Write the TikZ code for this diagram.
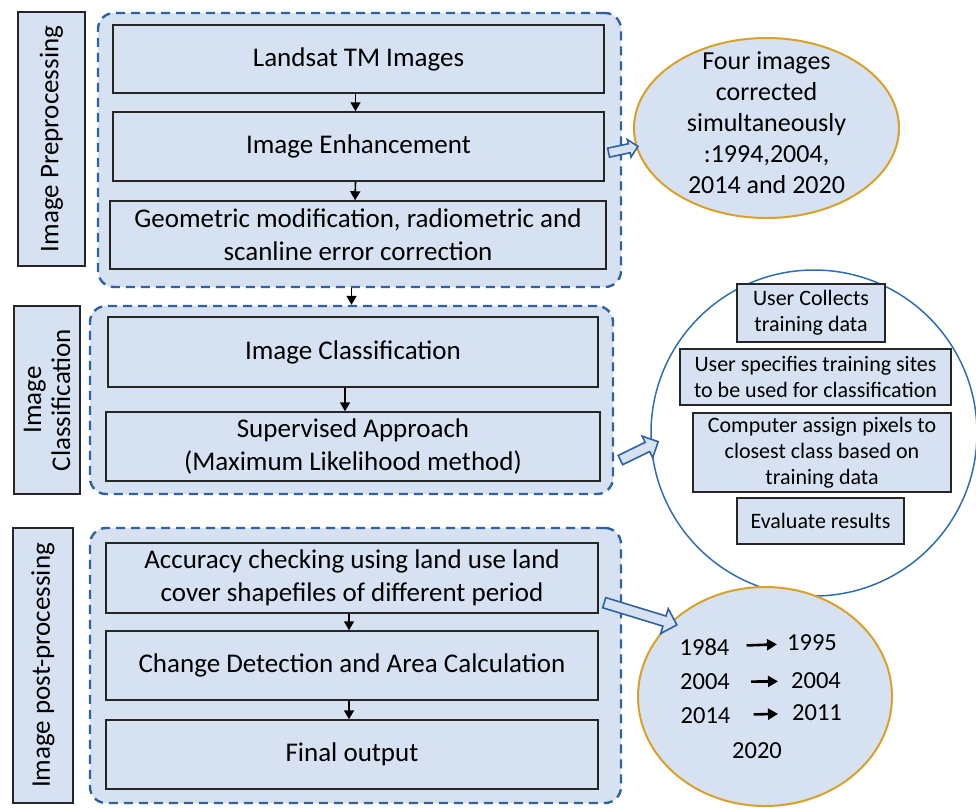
\documentclass[tikz,border=0pt]{standalone}
\usepackage{fontspec}
\setmainfont{Carlito}
\usetikzlibrary{shapes.geometric,shapes.arrows,arrows.meta}

\definecolor{boxfill}{RGB}{214,226,242}
\definecolor{dashblue}{RGB}{46,98,165}
\definecolor{ringblue}{RGB}{46,110,180}
\definecolor{ringgold}{RGB}{218,160,40}
\definecolor{edgegray}{RGB}{38,38,38}

\tikzset{
  stepbox/.style={draw=edgegray, line width=1.5pt, fill=boxfill, align=center,
    inner sep=0pt, font=\fontsize{27}{33}\selectfont},
  sidebox/.style={stepbox, rotate=90},
  tinybox/.style={stepbox, font=\fontsize{22}{26}\selectfont},
  group/.style={draw=dashblue, line width=2.4pt, dash pattern=on 9pt off 6pt,
    fill=boxfill, rounded corners=16pt},
  bigarrow/.style={single arrow, draw=dashblue, line width=1.6pt, fill=boxfill,
    single arrow head indent=0pt},
  yr/.style={font=\fontsize{24.5}{28}\selectfont, inner sep=1pt},
  yrarrow/.style={line width=2.6pt, -{Triangle[length=10pt,width=11pt]}},
}

\begin{document}
\begin{tikzpicture}[x=1pt, y=-1pt, >={Triangle[length=9pt,width=10pt]}]
  \useasboundingbox (0,0) rectangle (976,807);

  % dashed groups
  \node (grpA) [group, minimum width=523pt, minimum height=274pt] at (359.5,150) {};
  \node (grpB) [group, minimum width=523pt, minimum height=188pt] at (351.5,400) {};
  \node (grpC) [group, minimum width=531pt, minimum height=275pt] at (355.5,665.5) {};

  % side labels
  \node (labA) [sidebox, minimum width=254pt, minimum height=67pt] at (51.5,139) {Image Preprocessing};
  \node (labB) [sidebox, minimum width=188pt, minimum height=66pt, font=\fontsize{27}{29}\selectfont] at (47,400) {Image\\Classification};
  \node (labC) [sidebox, minimum width=275pt, minimum height=60pt] at (43,665.5) {Image post-processing};

  % preprocessing
  \node (land) [stepbox, minimum width=491pt, minimum height=68pt] at (358.5,59) {Landsat TM Images};
  \node (enh) [stepbox, minimum width=491pt, minimum height=69pt] at (358.5,146.5) {Image Enhancement};
  \node (geo) [stepbox, minimum width=496pt, minimum height=68pt] at (358,235) {Geometric modification, radiometric and\\scanline error correction};
  \draw [->, line width=1.6pt] ([xshift=-3pt]land.south) -- ([xshift=-3pt]enh.north);
  \draw [->, line width=1.6pt] ([xshift=-3pt]enh.south) -- ([xshift=-3pt]geo.north);

  % classification
  \node (cls) [stepbox, minimum width=490pt, minimum height=70pt] at (353,352) {Image Classification};
  \node (sup) [stepbox, minimum width=494pt, minimum height=69pt] at (353,446.5) {Supervised Approach\\(Maximum Likelihood method)};
  \draw [->, line width=1.6pt] ([xshift=-8pt]cls.south) -- ([xshift=-8pt]sup.north);
  \draw [->, line width=1.6pt] (grpA.south -| grpB.north) -- (grpB.north);

  % post-processing
  \node (acc) [stepbox, minimum width=492pt, minimum height=70pt] at (352,578) {Accuracy checking using land use land\\cover shapefiles of different period};
  \node (chg) [stepbox, minimum width=492pt, minimum height=69pt] at (352,665.5) {Change Detection and Area Calculation};
  \node (fin) [stepbox, minimum width=492pt, minimum height=69pt] at (352,754.5) {Final output};
  \draw [->, line width=1.6pt] ([xshift=-3pt]acc.south) -- ([xshift=-3pt]chg.north);
  \draw [->, line width=1.6pt] ([xshift=-3pt]chg.south) -- ([xshift=-3pt]fin.north);

  % four images
  \node (four) [ellipse, draw=ringgold, line width=2pt, fill=boxfill, minimum width=265pt, minimum height=180pt] at (766.5,128) {};
  \node (fourtxt) [align=center, font=\fontsize{26}{31}\selectfont, inner sep=0pt] at (766.5,123) {Four images\\corrected\\simultaneously\\:1994,2004,\\2014 and 2020};

  % training steps
  \node (ring) [circle, draw=ringblue, line width=1.5pt, minimum size=326pt] at (814,433) {};
  \node (uc) [tinybox, minimum width=148pt, minimum height=58pt] at (811,313) {User Collects\\training data};
  \node (us) [tinybox, minimum width=271pt, minimum height=56pt] at (815.5,377) {User specifies training sites\\to be used for classification};
  \node (ca) [tinybox, minimum width=258pt, minimum height=79pt] at (822,452.5) {Computer assign pixels to\\closest class based on\\training data};
  \node (ev) [tinybox, minimum width=167pt, minimum height=46pt] at (820.5,521) {Evaluate results};

  % years
  \node (yrs) [ellipse, draw=ringgold, line width=2pt, fill=boxfill, minimum width=254pt, minimum height=219pt] at (765,696.5) {};
  \node (ya) [yr] at (704.5,647) {1984};
  \node (yb) [yr] at (812,643) {1995};
  \node (yc) [yr] at (705,682) {2004};
  \node (yd) [yr] at (816,681) {2004};
  \node (ye) [yr] at (705.5,715.5) {2014};
  \node (yf) [yr] at (817,713) {2011};
  \node (yg) [yr] at (757,750.5) {2020};
  \draw [yrarrow, shorten <=16pt, shorten >=9pt] (ya) -- (yb);
  \draw [yrarrow, shorten <=20pt, shorten >=12pt] (yc) -- (yd);
  \draw [yrarrow, shorten <=22pt, shorten >=13pt] (ye) -- (yf);

  % block arrows
  \node (arA) [bigarrow, minimum height=30pt, minimum width=18pt, single arrow head extend=4pt, rotate=12] at (621,150) {};
  \node (arB) [bigarrow, minimum height=42pt, minimum width=24pt, single arrow head extend=5.5pt, rotate=26] at (637,452) {};
  \node (arC) [bigarrow, minimum height=76pt, minimum width=26pt, single arrow head extend=6pt, rotate=-17] at (638,613) {};
\end{tikzpicture}
\end{document}
